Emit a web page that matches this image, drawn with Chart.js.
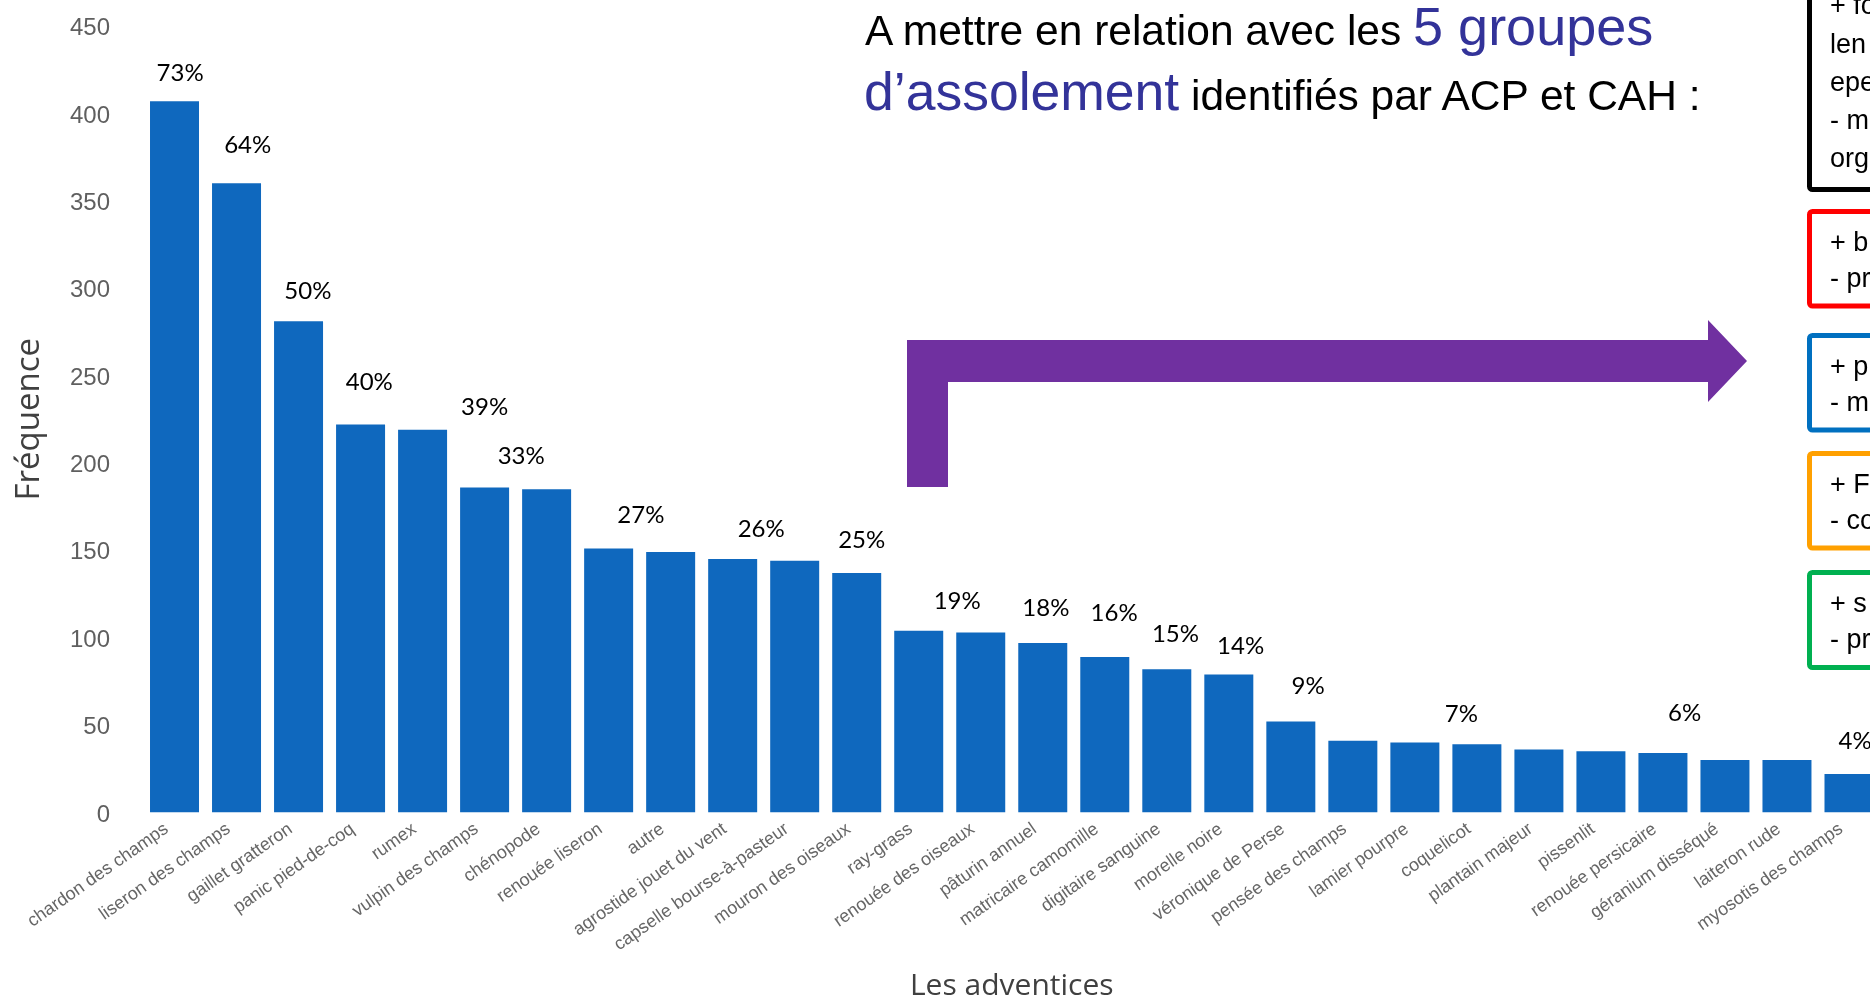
<!DOCTYPE html>
<html>
<head>
<meta charset="utf-8">
<script src="https://cdn.jsdelivr.net/npm/chart.js@4/dist/chart.umd.min.js"></script>
<style>
html, body { margin:0; padding:0; overflow:hidden; background:#fff; width:1870px; height:998px; }
#wrap { position:absolute; left:0; top:0; width:1880px; height:1004px; }
#overlay { position:absolute; left:0; top:0; }
</style>
</head>
<body>
<div id="wrap"><canvas id="c" width="1880" height="1004"></canvas></div>
<svg id="overlay" width="1870" height="998" xmlns="http://www.w3.org/2000/svg">
  <g font-family="'Liberation Sans', Arial, sans-serif">
    <text x="865" y="45" font-size="42.5" fill="#000">A mettre en relation avec les <tspan fill="#333399" font-size="54">5 groupes</tspan></text>
    <text x="864" y="110" font-size="42.5" fill="#000"><tspan fill="#333399" font-size="53.5">d’assolement</tspan> identifiés par ACP et CAH :</text>
  </g>
  <polygon points="907,340 1708,340 1708,320 1747,361 1708,402 1708,382 948,382 948,487 907,487" fill="#7030a0"/>
  <g fill="none" stroke-width="5">
    <rect x="1809.5" y="-20" width="200" height="209.5" rx="3" stroke="#000"/>
    <rect x="1809.5" y="211.5" width="200" height="94.5" rx="3" stroke="#ff0000"/>
    <rect x="1809.5" y="335.5" width="200" height="94.5" rx="3" stroke="#0070c0"/>
    <rect x="1809.5" y="453.5" width="200" height="94.5" rx="3" stroke="#ffa000"/>
    <rect x="1809.5" y="572.5" width="200" height="95" rx="3" stroke="#00b050"/>
  </g>
  <g font-family="'Liberation Sans', Arial, sans-serif" font-size="27" fill="#000">
    <text x="1830" y="14">+ fo</text>
    <text x="1830" y="52.5">len</text>
    <text x="1830" y="90.5">epe</text>
    <text x="1830" y="128.5">- m</text>
    <text x="1830" y="166.5">org</text>
    <text x="1830" y="251">+ b</text>
    <text x="1830" y="287">- pr</text>
    <text x="1830" y="375">+ p</text>
    <text x="1830" y="411">- m</text>
    <text x="1830" y="493">+ F</text>
    <text x="1830" y="529">- co</text>
    <text x="1830" y="612">+ s</text>
    <text x="1830" y="648">- pr</text>
  </g>
</svg>
<script>
// ---- data ----
const categories = [
  "chardon des champs", "liseron des champs", "gaillet gratteron", "panic pied-de-coq",
  "rumex", "vulpin des champs", "chénopode", "renouée liseron", "autre",
  "agrostide jouet du vent", "capselle bourse-à-pasteur", "mouron des oiseaux",
  "ray-grass", "renouée des oiseaux", "pâturin annuel", "matricaire camomille",
  "digitaire sanguine", "morelle noire", "véronique de Perse", "pensée des champs",
  "lamier pourpre", "coquelicot", "plantain majeur", "pissenlit",
  "renouée persicaire", "géranium disséqué", "laiteron rude", "myosotis des champs"
];
const frequencies = [
  407, 360, 281, 222, 219, 186, 185, 151, 149, 145, 144, 137,
  104, 103, 97, 89, 82, 79, 52, 41, 40, 39, 36, 35, 34, 30, 30, 22
];
const yTickValues = [0, 50, 100, 150, 200, 250, 300, 350, 400, 450];

// percentage annotations (text, anchor in category units, anchor in frequency units)
const pctText  = ["73%", "64%", "50%", "40%", "39%", "33%", "27%", "26%", "25%",
                  "19%", "18%", "16%", "15%", "14%", "9%", "7%", "6%", "4%"];
const pctAt    = [0.09, 1.18, 2.15, 3.14, 5.0, 5.59, 7.52, 9.46, 11.08,
                  12.62, 14.05, 15.15, 16.14, 17.19, 18.28, 20.75, 24.35, 27.1];
const pctValue = [423, 382, 298, 246, 232, 204, 170, 162, 156,
                  121, 117, 114, 102, 95, 72, 56, 57, 41];

const pctPlugin = {
  id: 'pctLabels',
  afterDatasetsDraw(chart) {
    const { ctx, scales } = chart;
    const xs = scales.x, ys = scales.y;
    ctx.save();
    ctx.font = '24px Lato, "Noto Sans", sans-serif';
    ctx.fillStyle = '#000';
    ctx.textAlign = 'center';
    ctx.textBaseline = 'middle';
    pctText.forEach((t, i) => {
      ctx.fillText(t, xs.getPixelForValue(pctAt[i]), ys.getPixelForValue(pctValue[i]));
    });
    ctx.restore();
  }
};

new Chart(document.getElementById('c'), {
  type: 'bar',
  data: {
    labels: categories,
    datasets: [{
      data: frequencies,
      backgroundColor: '#0f68be',
      borderWidth: 0,
      barPercentage: 0.79,
      categoryPercentage: 1.0
    }]
  },
  options: {
    responsive: false,
    animation: false,
    devicePixelRatio: 1,
    layout: { padding: { left: 10, right: 0, top: 26, bottom: 0 } },
    plugins: { legend: { display: false }, tooltip: { enabled: false }, title: { display: false } },
    scales: {
      x: {
        grid: { display: false, drawTicks: false },
        border: { display: false },
        ticks: {
          autoSkip: false,
          minRotation: 35,
          maxRotation: 35,
          padding: 6,
          labelOffset: -8,
          color: '#666',
          font: { family: '"Liberation Sans", Arial, sans-serif', size: 18 }
        },
        title: {
          display: true,
          text: 'Les adventices',
          color: '#404040',
          font: { family: '"Open Sans", "Noto Sans", sans-serif', size: 30 },
          padding: { top: 0, bottom: 0 }
        },
        afterFit(scale) { scale.height = 191.5; }
      },
      y: {
        min: 0,
        max: 450,
        grid: { display: false, drawTicks: false },
        border: { display: false },
        afterBuildTicks(scale) { scale.ticks = yTickValues.map(v => ({ value: v })); },
        ticks: {
          padding: 33.5,
          labelOffset: 2.5,
          color: '#5f5f5f',
          font: { family: '"Liberation Sans", Arial, sans-serif', size: 24 }
        },
        title: {
          display: true,
          text: 'Fréquence',
          color: '#404040',
          font: { family: '"Open Sans", "Noto Sans", sans-serif', size: 33 },
          padding: { top: 0, bottom: 0 }
        },
        afterFit(scale) {
          scale.width = 133.5;
          scale.paddingTop = 0;
          scale.paddingBottom = 0;
        }
      }
    }
  },
  plugins: [pctPlugin]
});
</script>
</body>
</html>
